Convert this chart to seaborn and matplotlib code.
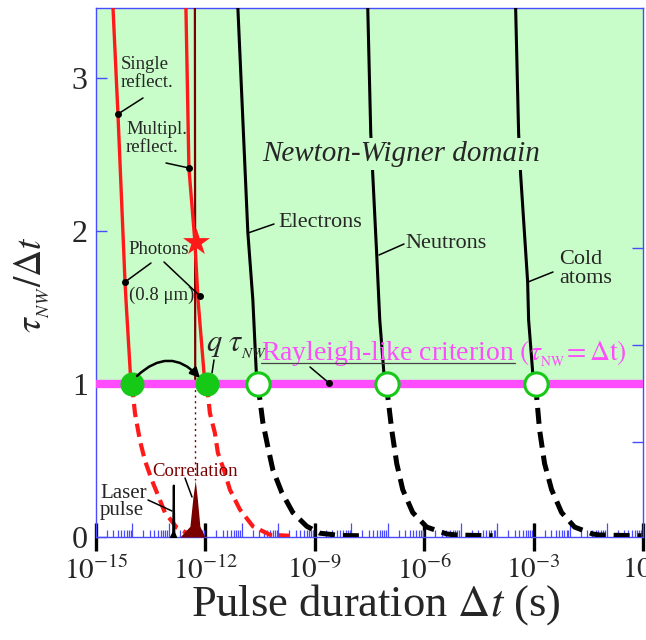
import numpy as np
import pandas as pd
import matplotlib
matplotlib.use("Agg")
import matplotlib.pyplot as plt
import seaborn as sns
from matplotlib.ticker import FixedLocator, LogLocator, NullFormatter

sns.set_style("white")
plt.rcParams['font.family'] = ['Liberation Serif', 'DejaVu Serif']
plt.rcParams['mathtext.fontset'] = 'stix'

# ---------------- data (log10 of pulse duration [s], tau_NW / dt) -------------
single_solid_logt = [-14.041, -14.178, -14.205, -14.397, -14.534]
single_solid_ratio = [1.0, 1.55, 1.67, 2.76, 3.46]
single_dash_logt = [-14.014, -13.932, -13.795, -13.658, -13.466, -13.329, -13.110, -12.781, -12.425, -12.151]
single_dash_ratio = [1.0, 0.81, 0.63, 0.50, 0.37, 0.29, 0.16, 0.06, 0.015, 0.008]

multi_solid_logt = [-12.014, -12.205, -12.288, -12.452, -12.534]
multi_solid_ratio = [1.0, 1.56, 1.93, 2.41, 3.46]
multi_dash_logt = [-11.959, -11.877, -11.740, -11.658, -11.466, -11.329, -11.055, -10.699, -10.233, -9.685]
multi_dash_ratio = [1.0, 0.81, 0.68, 0.55, 0.42, 0.31, 0.18, 0.07, 0.015, 0.008]

elec_solid_logt = [-10.589, -10.699, -10.836, -11.110]
elec_solid_ratio = [1.0, 1.55, 1.99, 3.46]
elec_dash_logt = [-10.562, -10.507, -10.425, -10.288, -10.151, -9.904, -9.603, -9.219, -8.863, -8.315, -7.712]
elec_dash_ratio = [1.0, 0.90, 0.75, 0.59, 0.44, 0.29, 0.16, 0.07, 0.025, 0.01, 0.008]

neut_solid_logt = [-7.082, -7.219, -7.301, -7.411, -7.466, -7.548]
neut_solid_ratio = [1.0, 1.42, 1.84, 2.37, 2.64, 3.46]
neut_dash_logt = [-7.027, -7.000, -6.890, -6.753, -6.589, -6.315, -5.932, -5.384, -5.110, -4.123]
neut_dash_ratio = [1.0, 0.92, 0.70, 0.48, 0.31, 0.16, 0.065, 0.02, 0.013, 0.008]

cold_solid_logt = [-3.000, -3.137, -3.164, -3.356, -3.411, -3.493]
cold_solid_ratio = [1.0, 1.42, 1.67, 2.37, 2.64, 3.46]
cold_dash_logt = [-2.945, -2.918, -2.836, -2.699, -2.507, -2.233, -1.877, -1.384, -1.192, -0.041]
cold_dash_ratio = [1.0, 0.92, 0.70, 0.48, 0.31, 0.16, 0.065, 0.02, 0.013, 0.008]

corr_line_logt = [-12.288, -12.279]
corr_line_ratio = [3.46, 1.0]
corr_dot_logt = [-12.279, -12.279]
corr_dot_ratio = [1.0, 0.37]

laser_logt = [-12.960, -12.900, -12.882, -12.864, -12.815]
laser_ratio = [0.0, 0.03, 0.34, 0.03, 0.0]
corr_peak_logt = [-12.699, -12.425, -12.342, -12.279, -12.225, -12.151, -12.014]
corr_peak_ratio = [0.0, 0.07, 0.26, 0.37, 0.26, 0.07, 0.0]

filled_circle_logt = [-14.014, -11.959]
open_circle_logt = [-10.562, -7.027, -2.945]
star_logt = [-12.260]
star_ratio = [1.93]

major_exp = [-15, -12, -9, -6, -3, 0]
right_ticks = [0.621, 1.255, 1.889]

# ---------------- colours ----------------
GREEN_BG = '#c8fcc8'
MAGENTA = '#ff4cff'
RED = '#ff1a1a'
DARKRED = '#7a0000'
BLUE = '#4a4aff'
CGREEN = '#17c917'

W, H = 646, 640
fig = plt.figure(figsize=(W / 100, H / 100), dpi=100)
AX_L, AX_R, AX_B, AX_T = 96, 643, 537, 8
ax = fig.add_axes([AX_L / W, 1 - AX_B / H, (AX_R - AX_L) / W, (AX_B - AX_T) / H])
ax.set_xscale('log')
YMAX = (AX_B - AX_T) / 153.0
ax.set_xlim(1e-15, 1e0)
ax.set_ylim(0, YMAX)


def P(px, py):
    """pixel-layout helper for annotation placement"""
    return 10 ** (-15 + (px - AX_L) / ((AX_R - AX_L) / 15.0)), (AX_B - py) / 153.0


def T(a):
    return 10 ** np.asarray(a, dtype=float)


# background domain
ax.axhspan(1.0, YMAX, color=GREEN_BG, zorder=0, lw=0)

# curves
def curve(lt, r, color, lw, ls='-', z=3):
    sns.lineplot(x=T(lt), y=r, ax=ax, color=color, lw=lw, sort=False,
                 estimator=None, linestyle=ls, zorder=z, legend=False)

curve(single_solid_logt, single_solid_ratio, RED, 2.4)
curve(multi_solid_logt, multi_solid_ratio, RED, 2.4)
curve(corr_line_logt, corr_line_ratio, DARKRED, 1.6, z=2.9)
curve(corr_dot_logt, corr_dot_ratio, DARKRED, 1.0, ls=(0, (1.5, 2.5)))
curve(elec_solid_logt, elec_solid_ratio, 'black', 2.2)
curve(neut_solid_logt, neut_solid_ratio, 'black', 2.2)
curve(cold_solid_logt, cold_solid_ratio, 'black', 2.2)

dash = (0, (3.2, 1.6))
curve(single_dash_logt, single_dash_ratio, RED, 3.0, ls=dash)
curve(multi_dash_logt, multi_dash_ratio, RED, 3.0, ls=dash)
curve(elec_dash_logt, elec_dash_ratio, 'black', 3.6, ls=dash)
curve(neut_dash_logt, neut_dash_ratio, 'black', 3.6, ls=dash)
curve(cold_dash_logt, cold_dash_ratio, 'black', 3.6, ls=dash)

# pulses
ax.fill_between(T(laser_logt), laser_ratio, color='black', lw=1.4, zorder=4)
ax.fill_between(T(corr_peak_logt), corr_peak_ratio, color=DARKRED, lw=0, zorder=4)

# Rayleigh line
ax.axhline(1.0, color=MAGENTA, lw=6, zorder=3.5)

# circles
sns.scatterplot(x=T(filled_circle_logt), y=[1.0] * len(filled_circle_logt), ax=ax,
                s=300, color=CGREEN, edgecolor=CGREEN, linewidth=0, zorder=6, legend=False)
sns.scatterplot(x=T(open_circle_logt), y=[1.0] * len(open_circle_logt), ax=ax,
                s=280, color='white', edgecolor=CGREEN, linewidth=2.2, zorder=6, legend=False)
sns.scatterplot(x=T(star_logt), y=star_ratio, ax=ax, marker='*', s=420,
                color=RED, edgecolor=RED, linewidth=0, zorder=6, legend=False)

# curved arrow q
ax.annotate('', xy=P(200, 378), xytext=P(137, 376),
            arrowprops=dict(arrowstyle='-|>', connectionstyle='arc3,rad=-0.5',
                            color='black', lw=1.8, mutation_scale=14, shrinkA=0, shrinkB=0),
            zorder=7)


def leader(p0, p1, dot=True, color='black'):
    x0, y0 = P(*p0)
    x1, y1 = P(*p1)
    ax.plot([x0, x1], [y0, y1], color=color, lw=1.1, zorder=5)
    if dot:
        ax.plot([x1], [y1], 'o', color='black', ms=4, zorder=5)


fs_small = 13.5
ax.text(*P(121, 56), 'Single\nreflect.', fontsize=fs_small, va='top', ha='left',
        linespacing=1.05, zorder=5)
leader((143, 98), (118, 114))
ax.text(*P(126, 121), 'Multipl.\nreflect.', fontsize=fs_small, va='top', ha='left',
        linespacing=1.05, zorder=5)
leader((166, 163), (189, 168))
ax.text(*P(128, 250), 'Photons', fontsize=fs_small, va='center', ha='left', zorder=5)
ax.text(*P(129, 295), r'(0.8 μm)', fontsize=fs_small, va='center', ha='left', zorder=5)
leader((151, 263), (125, 282))
leader((164, 262), (200, 296))

fs_mid = 16
ax.text(*P(278, 222), 'Electrons', fontsize=fs_mid, va='center', ha='left', zorder=5)
leader((274, 224), (248, 233), dot=False)
ax.text(*P(405, 244), 'Neutrons', fontsize=fs_mid, va='center', ha='left', zorder=5)
leader((404, 244), (379, 255), dot=False)
ax.text(*P(559, 269), 'Cold\natoms', fontsize=fs_mid, va='center', ha='left',
        linespacing=1.0, zorder=5)
leader((553, 272), (528, 282), dot=False)

ax.text(*P(401, 154), 'Newton-Wigner domain', fontsize=21, style='italic',
        va='center', ha='center', zorder=5,
        bbox=dict(facecolor=GREEN_BG, edgecolor='none', pad=2))

ax.text(*P(206, 345), r'$q\ \tau_{_{NW}}$', fontsize=22, va='center', ha='left', zorder=5)
leader((214, 360), (212, 373), dot=False)

ax.text(*P(261, 354), r'Rayleigh-like criterion $(\tau_{_{\mathrm{NW}}}\!=\Delta\mathrm{t})$',
        fontsize=20, color=MAGENTA, va='center', ha='left', zorder=5)
ux0, uy = P(261, 363)
ux1, _ = P(515, 363)
ax.plot([ux0, ux1], [uy, uy], color='#444444', lw=0.9, zorder=5)
leader((310, 367), (329, 383))

ax.text(*P(152, 471), 'Correlation', fontsize=13.5, color=DARKRED, va='center',
        ha='left', zorder=5)
leader((185, 478), (192, 497), dot=False)
ax.text(*P(100, 502), 'Laser\npulse', fontsize=15, va='center', ha='left',
        linespacing=0.85, zorder=5)
leader((148, 500), (172, 511), dot=False)

# ---------------- axes styling ----------------
for sp in ax.spines.values():
    sp.set_color(BLUE)
    sp.set_linewidth(1.0)
    sp.set_visible(True)

ax.xaxis.set_major_locator(FixedLocator([10.0 ** e for e in major_exp]))
ax.set_xticklabels([r'$10^{%d}$' % e for e in major_exp])
ax.xaxis.set_minor_locator(LogLocator(base=10, subs=np.arange(2, 10), numticks=200))
ax.xaxis.set_minor_formatter(NullFormatter())
ax.tick_params(axis='x', which='major', direction='inout', length=20, width=2.4,
               color='black', labelsize=21, pad=4, bottom=True, top=False)
ax.tick_params(axis='x', which='minor', direction='in', length=5, width=0.9,
               color=BLUE, bottom=True, top=False)

sec = ax.secondary_xaxis('bottom')
sec.set_xscale('log')
sec.xaxis.set_major_locator(LogLocator(base=10, subs=[1.0], numticks=200))
sec.xaxis.set_major_formatter(NullFormatter())
sec.xaxis.set_minor_locator(FixedLocator([]))
sec.tick_params(axis='x', which='major', direction='in', length=10, width=0.9, color=BLUE)
sec.spines['bottom'].set_visible(False)

ax.set_yticks([0, 1, 2, 3])
ax.set_yticklabels(['0', '1', '2', '3'])
ax.tick_params(axis='y', which='major', direction='in', length=8, width=1.0,
               color=BLUE, labelsize=23, pad=6, left=True, right=False)

secy = ax.secondary_yaxis('right')
secy.set_yticks(right_ticks)
secy.set_yticklabels([''] * len(right_ticks))
secy.tick_params(axis='y', direction='in', length=8, width=1.0, color=BLUE)
secy.spines['right'].set_visible(False)

ax.set_xlabel(r'Pulse duration $\mathit{\Delta t}$ (s)', fontsize=32)
ax.xaxis.set_label_coords((376 - AX_L) / (AX_R - AX_L), -0.085)
ax.set_ylabel(r'$\tau_{_{NW}}/\mathit{\Delta t}$', fontsize=27)
ax.yaxis.set_label_coords((52 - AX_L) / (AX_R - AX_L), (AX_B - 285) / (AX_B - AX_T))

fig.savefig('out.png', dpi=100)
